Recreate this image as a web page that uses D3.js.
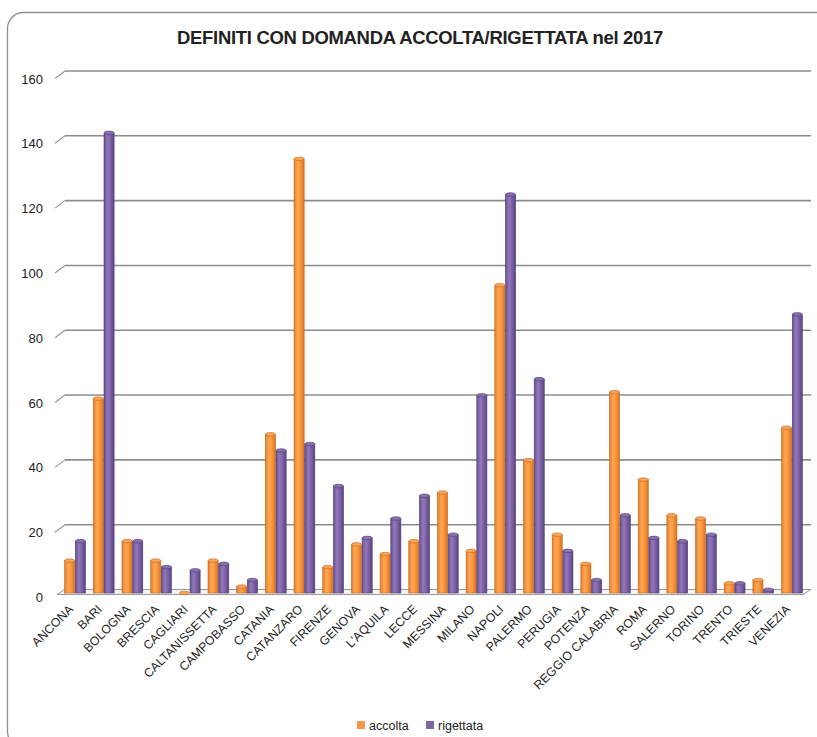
<!DOCTYPE html>
<html>
<head>
<meta charset="utf-8">
<script src="https://cdn.jsdelivr.net/npm/d3@7"></script>
<style>
  html, body { margin: 0; padding: 0; background: #fff; }
  svg { display: block; }
  text { font-family: "Liberation Sans", Arial, sans-serif; fill: #222; }
</style>
</head>
<body>
<svg id="chart" width="817" height="737"></svg>
<script>
const categories = ["ANCONA","BARI","BOLOGNA","BRESCIA","CAGLIARI","CALTANISSETTA","CAMPOBASSO","CATANIA","CATANZARO","FIRENZE","GENOVA","L'AQUILA","LECCE","MESSINA","MILANO","NAPOLI","PALERMO","PERUGIA","POTENZA","REGGIO CALABRIA","ROMA","SALERNO","TORINO","TRENTO","TRIESTE","VENEZIA"];
const accolta   = [10, 60, 16, 10, 0, 10, 2, 49, 134, 8, 15, 12, 16, 31, 13, 95, 41, 18, 9, 62, 35, 24, 23, 3, 4, 51];
const rigettata = [16, 142, 16, 8, 7, 9, 4, 44, 46, 33, 17, 23, 30, 18, 61, 123, 66, 13, 4, 24, 17, 16, 18, 3, 1, 86];
const seriesNames = ["accolta", "rigettata"];
const seriesColors = { accolta: "#F79646", rigettata: "#8064A2" };
const yTicks = [0, 20, 40, 60, 80, 100, 120, 140, 160];
const title = "DEFINITI CON DOMANDA ACCOLTA/RIGETTATA nel 2017";

const svg = d3.select("#chart");

// frame
svg.append("rect")
  .attr("x", 7.5).attr("y", 12.5)
  .attr("width", 830).attr("height", 735)
  .attr("rx", 16).attr("ry", 16)
  .attr("fill", "#fff").attr("stroke", "#8f8f8f").attr("stroke-width", 1.3);

// gradients
const defs = svg.append("defs");
const gradStops = {
  accolta: ["#e27d28", "#ffa655", "#ff9a40", "#d97320"],
  rigettata: ["#65508c", "#9378bb", "#8165a9", "#5a4682"]
};
seriesNames.forEach(s => {
  const g = defs.append("linearGradient").attr("id", "g-" + s)
    .attr("x1", 0).attr("x2", 1).attr("y1", 0).attr("y2", 0);
  [0, 0.35, 0.6, 1].forEach((o, i) => g.append("stop").attr("offset", o).attr("stop-color", gradStops[s][i]));
});

// scales
const x0 = d3.scaleBand().domain(categories).range([60.7, 806.3]).paddingInner(0.254).paddingOuter(0.127);
const x1 = d3.scaleBand().domain(seriesNames).range([0, x0.bandwidth()]);
const yGrid = d3.scaleLinear().domain([0, 160]).range([589.5, 71]);
const yBar = d3.scaleLinear().domain([0, 160]).range([593, 74.6]);

const depthX = 9, depthY = 7.5;
const wallLeft = 65, wallRight = 811;

// gridlines (back wall) with slanted side ticks
const grid = svg.append("g");
yTicks.filter(t => t > 0).forEach(t => {
  const y = yGrid(t);
  grid.append("line").attr("x1", wallLeft).attr("x2", wallRight).attr("y1", y).attr("y2", y)
    .attr("stroke", "#8c8c8c").attr("stroke-width", 1.6);
  grid.append("line").attr("x1", wallLeft - depthX - 1).attr("y1", y + depthY).attr("x2", wallLeft).attr("y2", y)
    .attr("stroke", "#9a9a9a").attr("stroke-width", 1.2);
});

// floor
const y0 = yGrid(0);
svg.append("path")
  .attr("d", `M${wallLeft},${y0} L${wallRight},${y0} L${wallRight - 8},${y0 + 5} L${wallLeft - 8},${y0 + 5} Z`)
  .attr("fill", "#f3f3f3").attr("stroke", "#9a9a9a").attr("stroke-width", 1);

// y labels
svg.append("g").selectAll("text").data(yTicks).join("text")
  .attr("x", 43).attr("y", d => yGrid(d) + 8).attr("dy", "0.35em")
  .attr("text-anchor", "end").attr("font-size", 13).text(d => d);

// bars
const rows = categories.map((c, i) => ({ cat: c, values: [ { s: "accolta", v: accolta[i] }, { s: "rigettata", v: rigettata[i] } ] }));
const gBars = svg.append("g");
const groups = gBars.selectAll("g").data(rows).join("g")
  .attr("transform", d => `translate(${x0(d.cat)},0)`);
const bw = x1.bandwidth();
const strokeCol = { accolta: "#c4671b", rigettata: "#4e3b72" };
const capCol = { accolta: "#f9a55c", rigettata: "#8a70b0" };
groups.selectAll("rect").data(d => d.values).join("rect")
  .attr("x", d => x1(d.s) + 0.3)
  .attr("width", bw - 0.6)
  .attr("y", d => yBar(d.v))
  .attr("height", d => yBar(0) - yBar(d.v))
  .attr("fill", d => `url(#g-${d.s})`)
  .attr("stroke", d => strokeCol[d.s]).attr("stroke-width", 0.6);
groups.selectAll("ellipse.cap").data(d => d.values).join("ellipse").attr("class", "cap")
  .attr("cx", d => x1(d.s) + bw / 2)
  .attr("cy", d => yBar(d.v))
  .attr("rx", bw / 2 - 0.3).attr("ry", 1.8)
  .attr("fill", d => capCol[d.s])
  .attr("stroke", d => strokeCol[d.s]).attr("stroke-width", 0.6);

// x labels
svg.append("g").selectAll("text").data(categories).join("text")
  .attr("text-anchor", "end")
  .attr("font-size", 12.3)
  .attr("transform", d => `translate(${x0(d) + x0.bandwidth() / 2 - 1},${610}) rotate(-45)`)
  .text(d => d);

// title
const t = svg.append("text")
  .attr("x", 420).attr("y", 44)
  .attr("text-anchor", "middle")
  .attr("font-weight", "bold").attr("font-size", 16)
  .style("letter-spacing", "-0.3px")
  .text(title);
const tw = t.node().getComputedTextLength();
t.attr("font-size", 16 * 484 / tw);

// legend
const legend = svg.append("g");
const legendPos = { accolta: 357, rigettata: 426 };
seriesNames.forEach(s => {
  legend.append("rect").attr("x", legendPos[s]).attr("y", 721).attr("width", 8).attr("height", 8)
    .attr("fill", seriesColors[s]);
  legend.append("text").attr("x", legendPos[s] + 12).attr("y", 730)
    .attr("font-size", 12.5).attr("fill", "#333").text(s);
});
</script>
</body>
</html>
